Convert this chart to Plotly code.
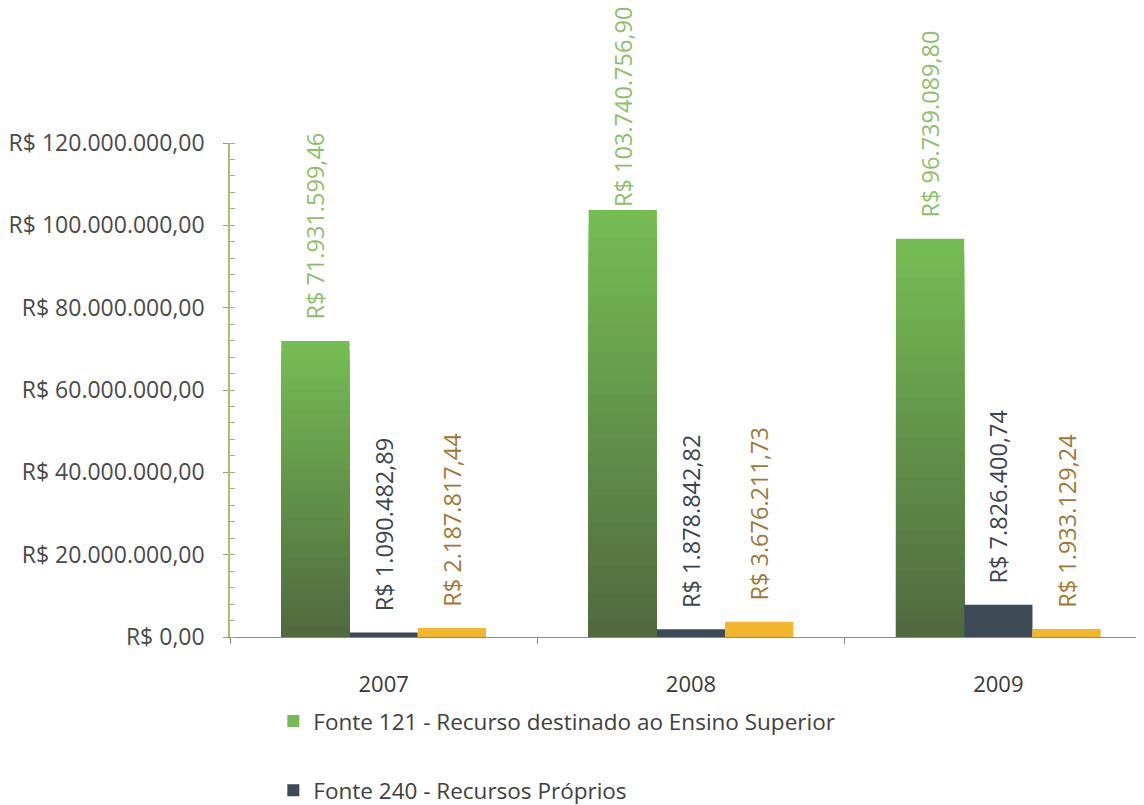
import plotly.graph_objects as go

years = ["2007", "2008", "2009"]
fonte_121 = [71931599.46, 103740756.90, 96739089.80]
fonte_240 = [1090482.89, 1878842.82, 7826400.74]
fonte_250 = [2187817.44, 3676211.73, 1933129.24]

name_121 = "Fonte 121 - Recurso destinado ao Ensino Superior"
name_240 = "Fonte 240 - Recursos Próprios"
name_250 = "Fonte 250 - Recursos Diretamente Arrecadados"

BAR_W = 0.222
FONT = "Open Sans"
PAD = "\u00a0\u00a0\u00a0"
LABEL = PAD + "R$ %{y:,.2f}"
LABEL_SIZE = 23.5
# the tallest label sits right on its bar so it stays on the page
green_labels = [LABEL, "R$ %{y:,.2f}", LABEL]


def mix(c1, c2, t):
    return "rgb({},{},{})".format(*[round(a + (b - a) * t) for a, b in zip(c1, c2)])


fig = go.Figure()

# green bars with a vertical gradient: stacked overlay of shrinking bars
steps = 30
top_rgb, bottom_rgb = (118, 188, 84), (80, 106, 64)
for k in range(steps):
    frac = (steps - k) / steps
    first = k == 0
    fig.add_trace(
        go.Bar(
            x=years,
            y=[v * frac for v in fonte_121],
            width=BAR_W,
            offset=-1.5 * BAR_W,
            marker=dict(color=mix(top_rgb, bottom_rgb, k / (steps - 1)), line_width=0),
            name=name_121,
            legendgroup="g121",
            showlegend=first,
            texttemplate=green_labels if first else "",
            textposition="outside" if first else "none",
            textangle=-90,
            constraintext="none",
            outsidetextfont=dict(color="#8cc06a", size=LABEL_SIZE, family=FONT),
            cliponaxis=False,
            hoverinfo="skip" if not first else None,
        )
    )

fig.add_trace(
    go.Bar(
        x=years,
        y=fonte_240,
        width=BAR_W,
        offset=-0.5 * BAR_W,
        marker=dict(color="#3e4a55", line_width=0),
        name=name_240,
        legendgroup="g240",
        texttemplate=LABEL,
        textposition="outside",
        textangle=-90,
        constraintext="none",
        outsidetextfont=dict(color="#3a4550", size=LABEL_SIZE, family=FONT),
        cliponaxis=False,
    )
)
# third series: its legend entry falls below the visible page in the original
fig.add_trace(
    go.Bar(
        x=years,
        y=fonte_250,
        width=BAR_W,
        offset=0.5 * BAR_W,
        marker=dict(color="#f0b72e", line_width=0),
        name=name_250,
        legendgroup="g250",
        showlegend=False,
        texttemplate=LABEL,
        textposition="outside",
        textangle=-90,
        constraintext="none",
        outsidetextfont=dict(color="#9f7838", size=LABEL_SIZE, family=FONT),
        cliponaxis=False,
    )
)

fig.update_layout(
    width=1144,
    height=805,
    barmode="overlay",
    separators=",.",
    paper_bgcolor="white",
    plot_bgcolor="white",
    font=dict(family=FONT, color="#404040"),
    margin=dict(l=222, r=0, t=135, b=176, autoexpand=False),
    legend=dict(
        x=0.047,
        y=-0.1275,
        xanchor="left",
        yanchor="top",
        font=dict(size=22.5, color="#404040"),
        tracegroupgap=37,
        traceorder="grouped",
        itemwidth=30,
    ),
)
fig.update_xaxes(
    range=[-0.5, 2.5],
    showline=True,
    linecolor="#8a8a8a",
    linewidth=1,
    ticks="outside",
    tickson="boundaries",
    ticklen=6,
    tickcolor="#8a8a8a",
    ticklabelstandoff=28,
    tickfont=dict(size=22, color="#383838"),
    showgrid=False,
    zeroline=False,
)
fig.update_yaxes(
    range=[0, 120000000],
    dtick=20000000,
    tickprefix="R$ ",
    tickformat=",.2f",
    showline=True,
    linecolor="#a6bf7a",
    linewidth=1.5,
    ticks="outside",
    ticklen=5,
    tickcolor="#8aa86a",
    ticklabelstandoff=14,
    minor=dict(dtick=4000000, ticks="inside", ticklen=5, tickcolor="#9db77a", showgrid=False),
    tickfont=dict(size=23, color="#4a4a4a"),
    showgrid=False,
    zeroline=False,
)

fig.write_html("out.html")
